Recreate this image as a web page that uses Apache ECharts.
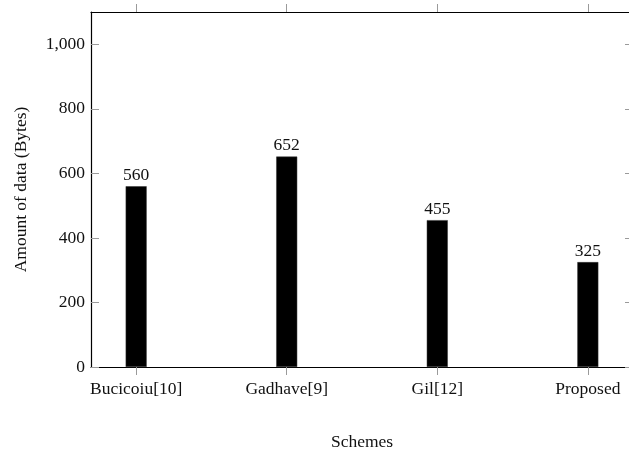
<!DOCTYPE html>
<html>
<head>
<meta charset="utf-8">
<script src="https://cdn.jsdelivr.net/npm/echarts@6/dist/echarts.min.js"></script>
<style>
html,body{margin:0;padding:0;background:#fff;}
#chart{width:629px;height:451px;}
</style>
</head>
<body>
<div id="chart"></div>
<script>
const categories = ['Bucicoiu[10]', 'Gadhave[9]', 'Gil[12]', 'Proposed'];
const values = [560, 652, 455, 325];
const yTicks = [0, 200, 400, 600, 800, 1000];
const xPositions = [0, 1, 2, 3];

const FONT = 'Liberation Serif';
const FS = 17.5;
const TXT = '#111';
const chart = echarts.init(document.getElementById('chart'), null, {renderer: 'canvas'});
const tickStyle = {color: '#9a9a9a', width: 1};
chart.setOption({
  animation: false,
  grid: {left: 91, right: -4, top: 12, bottom: 84, containLabel: false, outerBoundsMode: 'none'},
  xAxis: [{
    type: 'value', min: -0.3, max: 3.3, position: 'bottom',
    name: 'Schemes', nameLocation: 'middle', nameGap: 66,
    nameTextStyle: {fontFamily: FONT, fontSize: FS, color: TXT},
    axisLine: {show: true, onZero: false, lineStyle: {color: '#000', width: 1.2}},
    axisTick: {show: true, inside: false, length: 8, customValues: xPositions, lineStyle: tickStyle},
    axisLabel: {show: true, customValues: xPositions, margin: 13, fontFamily: FONT, fontSize: FS, color: TXT,
      formatter: v => categories[Math.round(v)] || ''},
    splitLine: {show: false}
  }, {
    type: 'value', min: -0.3, max: 3.3, position: 'top',
    axisLine: {show: true, onZero: false, lineStyle: {color: '#000', width: 1.2}},
    axisTick: {show: true, inside: false, length: 8, customValues: xPositions, lineStyle: tickStyle},
    axisLabel: {show: false},
    splitLine: {show: false}
  }],
  yAxis: [{
    type: 'value', min: 0, max: 1100, position: 'left',
    name: 'Amount of data (Bytes)', nameLocation: 'middle', nameGap: 61,
    nameTextStyle: {fontFamily: FONT, fontSize: FS, color: TXT},
    axisLine: {show: true, onZero: false, lineStyle: {color: '#000', width: 1.2}},
    axisTick: {show: true, inside: true, length: 8, customValues: yTicks, lineStyle: tickStyle},
    axisLabel: {show: true, customValues: yTicks, margin: 6, fontFamily: FONT, fontSize: FS, color: TXT,
      formatter: v => v.toLocaleString('en-US')},
    splitLine: {show: false}
  }, {
    type: 'value', min: 0, max: 1100, position: 'right',
    axisLine: {show: true, onZero: false, lineStyle: {color: '#000', width: 1.2}},
    axisTick: {show: true, inside: true, length: 8, customValues: yTicks, lineStyle: tickStyle},
    axisLabel: {show: false},
    splitLine: {show: false}
  }],
  series: [{
    type: 'bar',
    xAxisIndex: 0, yAxisIndex: 0,
    data: values.map((v, i) => [xPositions[i], v]),
    barWidth: 21,
    itemStyle: {color: '#000', borderColor: '#333', borderWidth: 0.5},
    label: {show: true, position: 'top', distance: 2, fontFamily: FONT, fontSize: FS, color: TXT,
      formatter: p => String(p.value[1])}
  }]
});
</script>
</body>
</html>
